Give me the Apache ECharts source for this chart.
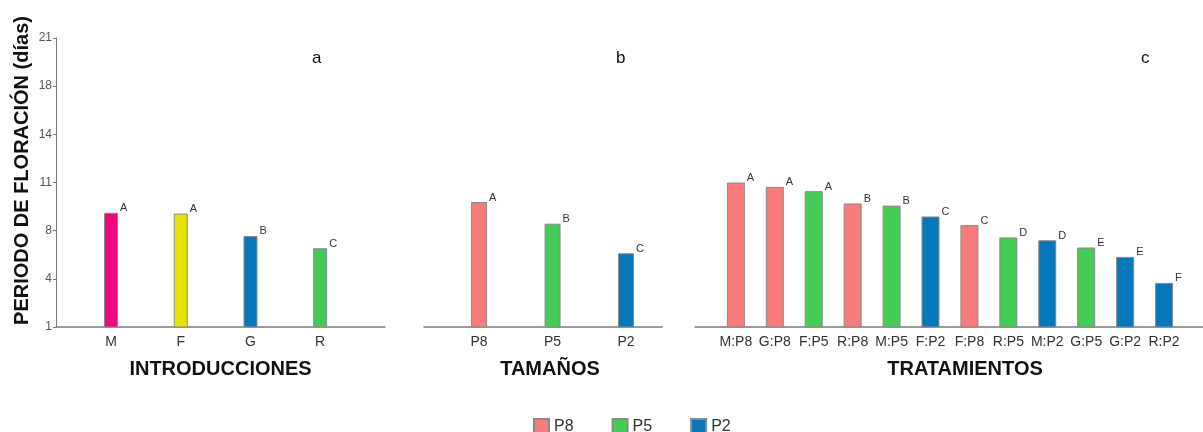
<!DOCTYPE html>
<html><head><meta charset="utf-8">
<script src="https://cdn.jsdelivr.net/npm/echarts@6/dist/echarts.min.js"></script>
<style>html,body{margin:0;padding:0;background:#fff}#c{width:1203px;height:432px}</style>
</head><body><div id="c"></div>
<script>
const introCats = ['M','F','G','R'];
const introVals = [8.9, 8.85, 7.3, 6.45];
const introLetters = ['A','A','B','C'];
const introColors = ['#F0077F','#E5E500','#0677BA','#45C853'];

const sizeCats = ['P8','P5','P2'];
const sizeVals = [9.65, 8.15, 6.1];
const sizeLetters = ['A','B','C'];
const sizeColors = {P8:'#F87B7B', P5:'#44CC55', P2:'#0677BA'};

const tratCats = ['M:P8','G:P8','F:P5','R:P8','M:P5','F:P2','F:P8','R:P5','M:P2','G:P5','G:P2','R:P2'];
const tratVals = [11.0, 10.7, 10.4, 9.55, 9.4, 8.65, 8.05, 7.2, 7.0, 6.5, 5.85, 4.05];
const tratLetters = ['A','A','A','B','B','C','C','D','D','E','E','F'];

const yTickLabels = ['1','4','8','11','14','18','21'];
const yMin = 1, yMax = 21;
const yTicks = yTickLabels.map((_, i) => yMin + i * (yMax - yMin) / (yTickLabels.length - 1));

const FONT = 'Liberation Sans, Arial, sans-serif';
const chart = echarts.init(document.getElementById('c'), null, {renderer: 'canvas'});

const border = {borderColor: '#8a8a8a', borderWidth: 1};
function letterLabel(arr) {
  return {
    show: true, position: ['100%', 0], align: 'left', verticalAlign: 'bottom',
    offset: [2, 1], fontSize: 11, color: '#333', fontFamily: FONT,
    formatter: p => arr[p.value[0]]
  };
}

function xAxis(gi, cats, min, max, name, shift) {
  return {
    type: 'value', gridIndex: gi, min: min, max: max,
    splitLine: {show: false},
    axisLine: {show: true, onZero: false, lineStyle: {color: '#7a7a7a', width: 1.5}},
    axisTick: {show: false},
    axisLabel: {
      customValues: cats.map((_, i) => i),
      formatter: v => cats[Math.round(v)] !== undefined ? cats[Math.round(v)] : '',
      fontSize: 14, color: '#333', margin: 8, fontFamily: FONT
    },
    name: name, nameLocation: 'middle', nameGap: 32,
    nameTextStyle: {fontSize: 20, fontWeight: 'bold', color: '#111', fontFamily: FONT, padding: [0, 0, 0, shift]}
  };
}

function yAxis(gi, visible) {
  return {
    type: 'value', gridIndex: gi, min: yMin, max: yMax,
    splitLine: {show: false},
    axisLine: {show: visible, onZero: false, lineStyle: {color: '#777', width: 1}},
    axisTick: {show: visible, customValues: yTicks, length: 3, lineStyle: {color: '#777'}},
    axisLabel: {
      show: visible, customValues: yTicks, fontSize: 12, color: '#555', margin: 4, fontFamily: FONT,
      formatter: v => yTickLabels[yTicks.findIndex(t => Math.abs(t - v) < 1e-6)]
    },
    name: visible ? 'PERIODO DE FLORACIÓN (días)' : '',
    nameLocation: 'middle', nameGap: 24,
    nameTextStyle: {fontSize: 20, fontWeight: 'bold', color: '#111', fontFamily: FONT, padding: [0, 0, 0, 24]}
  };
}

const series = [];
series.push({
  name: 'Introducciones', type: 'bar', xAxisIndex: 0, yAxisIndex: 0, barWidth: 14,
  data: introVals.map((v, i) => ({value: [i, v], itemStyle: Object.assign({color: introColors[i]}, border)})),
  label: letterLabel(introLetters)
});
sizeCats.forEach((s, i) => {
  series.push({
    name: s, type: 'bar', xAxisIndex: 1, yAxisIndex: 1, barWidth: 16, barGap: '-100%',
    itemStyle: Object.assign({color: sizeColors[s]}, border),
    data: [[i, sizeVals[i]]],
    label: letterLabel(sizeLetters)
  });
});
sizeCats.forEach(s => {
  const d = [];
  tratCats.forEach((c, i) => { if (c.split(':')[1] === s) d.push([i, tratVals[i]]); });
  series.push({
    name: s, type: 'bar', xAxisIndex: 2, yAxisIndex: 2, barWidth: 18, barGap: '-100%',
    itemStyle: Object.assign({color: sizeColors[s]}, border),
    data: d,
    label: letterLabel(tratLetters)
  });
});

chart.setOption({
  animation: false,
  textStyle: {fontFamily: FONT},
  title: [
    {text: 'a', left: 307, top: 45, textStyle: {fontSize: 17, fontWeight: 'normal', color: '#111', fontFamily: FONT}},
    {text: 'b', left: 611, top: 45, textStyle: {fontSize: 17, fontWeight: 'normal', color: '#111', fontFamily: FONT}},
    {text: 'c', left: 1136, top: 45, textStyle: {fontSize: 17, fontWeight: 'normal', color: '#111', fontFamily: FONT}}
  ],
  legend: {
    data: sizeCats, left: 528, top: 413, itemWidth: 15, itemHeight: 15, itemGap: 38,
    icon: 'rect', textStyle: {fontSize: 16, color: '#333', fontFamily: FONT}
  },
  grid: [
    {left: 56, top: 38, width: 329, height: 289},
    {left: 424, top: 38, width: 238, height: 289},
    {left: 695, top: 38, width: 508, height: 289}
  ],
  xAxis: [
    xAxis(0, introCats, -0.79, 3.93, 'INTRODUCCIONES', 0),
    xAxis(1, sizeCats, -0.75, 2.49, 'TAMAÑOS', 14),
    xAxis(2, tratCats, -1.05, 12.0, 'TRATAMIENTOS', 32)
  ],
  yAxis: [yAxis(0, true), yAxis(1, false), yAxis(2, false)],
  series: series
});
</script></body></html>
